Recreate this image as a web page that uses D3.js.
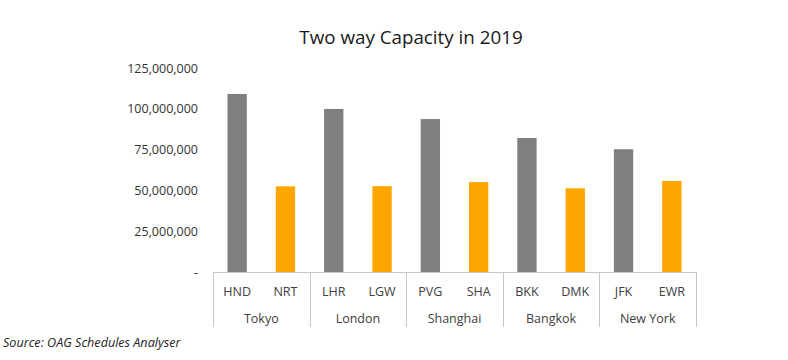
<!DOCTYPE html>
<html><head><meta charset="utf-8">
<script src="https://cdn.jsdelivr.net/npm/d3@7"></script>
<style>body{margin:0;background:#fff}svg{display:block}</style>
</head><body>
<svg id="c" width="788" height="360"></svg>
<script>
const cities = ["Tokyo","London","Shanghai","Bangkok","New York"];
const airports = ["HND","NRT","LHR","LGW","PVG","SHA","BKK","DMK","JFK","EWR"];
const airportCity = ["Tokyo","Tokyo","London","London","Shanghai","Shanghai","Bangkok","Bangkok","New York","New York"];
const capacity = [109100000,52500000,99900000,52600000,93700000,55100000,82100000,51300000,75200000,55800000];
const role = ["main","second","main","second","main","second","main","second","main","second"];
const yTicks = [0,25000000,50000000,75000000,100000000,125000000];
const yTickLabels = ["-","25,000,000","50,000,000","75,000,000","100,000,000","125,000,000"];

const svg = d3.select("#c");
const L = 213, R = 696, T = 68, B = 272;
const x = d3.scaleBand().domain(airports).range([L,R]).paddingInner(0.6).paddingOuter(0.3);
const xg = d3.scaleBand().domain(cities).range([L,R]);
const y = d3.scaleLinear().domain([0,125000000]).range([B,T]);
const font = "'Open Sans', 'Noto Sans', sans-serif";

svg.append("text").attr("x",411).attr("y",44).attr("text-anchor","middle")
  .attr("font-family",font).attr("font-size",18.8).attr("fill","#1a1a1a").text("Two way Capacity in 2019");

// y labels
const ya = d3.axisLeft(y).tickValues(yTicks).tickFormat((d,i)=>yTickLabels[i]).tickSize(0).tickPadding(0);
const yg = svg.append("g").attr("transform",`translate(${L-15},0)`).call(ya);
yg.select(".domain").remove();
yg.selectAll("text").attr("font-family",font).attr("font-size",12.5).attr("fill","#333");

// bars
svg.append("g").selectAll("rect").data(airports).join("rect")
  .attr("x",d=>x(d)).attr("width",x.bandwidth())
  .attr("y",(d,i)=>y(capacity[i])).attr("height",(d,i)=>B-y(capacity[i]))
  .attr("fill",(d,i)=>role[i]==="main"?"#7f7f7f":"#ffa500");

// axis line
svg.append("line").attr("x1",L).attr("x2",R).attr("y1",B+0.5).attr("y2",B+0.5).attr("stroke","#c8c8c8");
// group separators
const seps = cities.map(c=>xg(c)).concat([R]);
svg.append("g").selectAll("line").data(seps).join("line")
  .attr("x1",d=>Math.round(d)+0.5).attr("x2",d=>Math.round(d)+0.5).attr("y1",B).attr("y2",327)
  .attr("stroke","#c8c8c8");

// sub labels
svg.append("g").selectAll("text").data(airports).join("text")
  .attr("x",d=>x(d)+x.bandwidth()/2).attr("y",296).attr("text-anchor","middle")
  .attr("font-family",font).attr("font-size",12.5).attr("fill","#404040").text(d=>d);
// group labels
svg.append("g").selectAll("text").data(cities).join("text")
  .attr("x",d=>xg(d)+xg.bandwidth()/2).attr("y",323).attr("text-anchor","middle")
  .attr("font-family",font).attr("font-size",12.5).attr("fill","#404040").text(d=>d);

svg.append("text").attr("x",3).attr("y",347).attr("font-family",font).attr("font-style","italic")
  .attr("font-size",12.6).attr("fill","#222").text("Source: OAG Schedules Analyser");
</script>
</body></html>
